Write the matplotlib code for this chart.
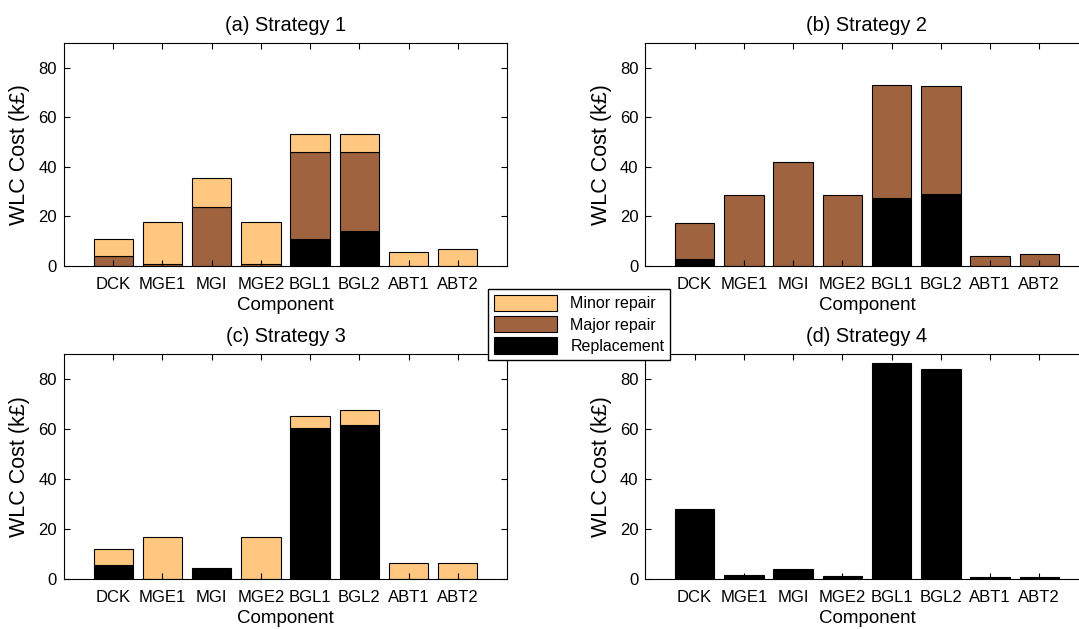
import numpy as np
import matplotlib.pyplot as plt
from matplotlib.patches import Patch

plt.rcParams['font.family'] = ['Liberation Sans', 'DejaVu Sans']

components = ["DCK", "MGE1", "MGI", "MGE2", "BGL1", "BGL2", "ABT1", "ABT2"]
titles = ["(a) Strategy 1", "(b) Strategy 2", "(c) Strategy 3", "(d) Strategy 4"]
labels = ["Minor repair", "Major repair", "Replacement"]

# stacked costs (k£): replacement, major repair, minor repair
s1_repl = [0, 0, 0, 0, 10.9, 14.0, 0, 0]
s1_major = [3.8, 0.5, 23.9, 0.8, 35.2, 32.1, 0, 0]
s1_minor = [7.1, 17.1, 11.4, 16.8, 7.3, 7.3, 5.4, 6.6]

s2_repl = [2.8, 0, 0, 0, 27.4, 29.0, 0, 0]
s2_major = [14.4, 28.6, 41.8, 28.6, 45.6, 43.6, 4.0, 4.7]
s2_minor = [0, 0, 0, 0, 0, 0, 0, 0]

s3_repl = [5.3, 0, 4.1, 0, 60.6, 61.7, 0, 0]
s3_major = [0, 0, 0, 0, 0, 0, 0, 0]
s3_minor = [6.8, 16.8, 0, 16.8, 4.8, 5.9, 6.1, 6.1]

s4_repl = [27.9, 1.5, 3.7, 1.2, 86.4, 84.0, 0.8, 0.8]
s4_major = [0, 0, 0, 0, 0, 0, 0, 0]
s4_minor = [0, 0, 0, 0, 0, 0, 0, 0]

strategies = [(s1_repl, s1_major, s1_minor), (s2_repl, s2_major, s2_minor),
              (s3_repl, s3_major, s3_minor), (s4_repl, s4_major, s4_minor)]

# copper colormap, 3 levels
c_minor = (1.0, 0.7812, 0.4975)
c_major = (0.625, 0.3906, 0.2487)
c_repl = (0.0, 0.0, 0.0)

fig = plt.figure(figsize=(10.79, 6.29), dpi=100)
# right column runs off the edge of the figure, like the original
positions = [[0.0593, 0.5776, 0.4106, 0.3536], [0.5982, 0.5776, 0.4106, 0.3536],
             [0.0593, 0.080, 0.4106, 0.3568], [0.5982, 0.080, 0.4106, 0.3568]]

x = np.arange(1, len(components) + 1)
for pos, title, (repl, major, minor) in zip(positions, titles, strategies):
    ax = fig.add_axes(pos)
    repl = np.array(repl)
    major = np.array(major)
    minor = np.array(minor)
    kw = dict(width=0.8, edgecolor='black', linewidth=0.8)
    ax.bar(x, repl, color=c_repl, **kw)
    ax.bar(x[major > 0], major[major > 0], bottom=repl[major > 0], color=c_major, **kw)
    m = minor > 0
    ax.bar(x[m], minor[m], bottom=(repl + major)[m], color=c_minor, **kw)
    ax.set_xlim(0, 9)
    ax.set_ylim(0, 90)
    ax.set_yticks([0, 20, 40, 60, 80])
    ax.set_xticks(x)
    ax.set_xticklabels(components)
    ax.tick_params(direction='in', top=True, right=True, labelsize=12, length=4, pad=5)
    ax.tick_params(axis='x', pad=8)
    ax.set_title(title, fontsize=14.4, pad=9)
    ax.set_xlabel("Component", fontsize=13.5, labelpad=4)
    ax.set_ylabel("WLC Cost (k£)", fontsize=15.5, labelpad=6)

handles = [Patch(facecolor=c, edgecolor='black', linewidth=0.8) for c in (c_minor, c_major, c_repl)]
leg = fig.legend(handles, labels, loc='center', bbox_to_anchor=(0.5366, 0.4843),
                 fontsize=11.5, fancybox=False, edgecolor='black', framealpha=1,
                 handlelength=4.0, handleheight=1.2, labelspacing=0.3, borderpad=0.35)
leg.get_frame().set_linewidth(1)
leg.set_zorder(10)

fig.savefig("out.png", dpi=100)
